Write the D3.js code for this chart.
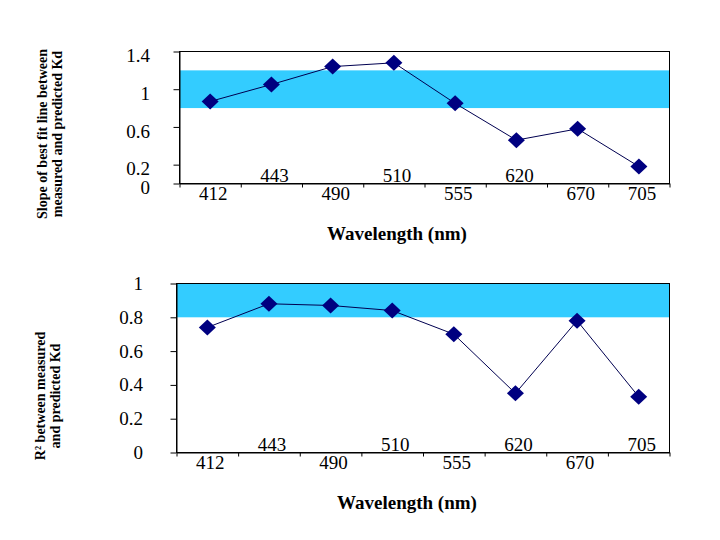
<!DOCTYPE html>
<html>
<head>
<meta charset="utf-8">
<script src="https://cdn.jsdelivr.net/npm/d3@7"></script>
<style>
  html, body { margin: 0; padding: 0; background: #fff; }
  svg { display: block; }
  text { font-family: "Liberation Serif", "Times New Roman", serif; fill: #000; }
</style>
</head>
<body>
<svg id="chart" width="720" height="540"></svg>
<script>
// ---- data ----
const wavelengths = ["412", "443", "490", "510", "555", "620", "670", "705"];
const slopeValues = [0.87, 1.05, 1.24, 1.28, 0.85, 0.46, 0.58, 0.18];
const r2Values = [0.74, 0.88, 0.87, 0.84, 0.70, 0.35, 0.78, 0.33];
const slopeTicks = [0, 0.2, 0.6, 1, 1.4];
const r2Ticks = [0, 0.2, 0.4, 0.6, 0.8, 1];
const slopeBand = [0.8, 1.2];
const r2Band = [0.8, 1.0];
const slopeTitle = ["Slope of best fit line between", "measured and predicted Kd"];
const r2Title = ["R\u00B2 between measured", "and predicted Kd"];
const xTitle = "Wavelength (nm)";

// ---- layout ----
const svg = d3.select("#chart");
const charts = [
  {
    values: slopeValues, ticks: slopeTicks, band: slopeBand, yMax: 1.4, title: slopeTitle,
    left: 179.5, right: 669.5, top: 51.5, bottom: 183.5,
    yLabelRight: 150, yLabelShift: 4,
    raised: [1, 3, 5], lowBase: 199.5, highBase: 181.5,
    titleX: [46.5, 62], titleY: 134,
    xTitleX: 397, xTitleY: 240
  },
  {
    values: r2Values, ticks: r2Ticks, band: r2Band, yMax: 1.0, title: r2Title,
    left: 176.5, right: 669.5, top: 283.5, bottom: 452.5,
    yLabelRight: 143, yLabelShift: 0,
    raised: [1, 3, 5, 7], lowBase: 469, highBase: 450.5,
    titleX: [45, 59.5], titleY: 396,
    xTitleX: 407, xTitleY: 509
  }
];

charts.forEach(c => {
  const g = svg.append("g");
  const x = d3.scaleBand().domain(wavelengths).range([c.left, c.right]).padding(0);
  const y = d3.scaleLinear().domain([0, c.yMax]).range([c.bottom, c.top]);

  // band
  g.append("rect")
    .attr("x", c.left).attr("width", c.right - c.left)
    .attr("y", y(c.band[1])).attr("height", y(c.band[0]) - y(c.band[1]))
    .attr("fill", "#33CCFF");

  // frame
  g.append("rect")
    .attr("x", c.left).attr("y", c.top)
    .attr("width", c.right - c.left).attr("height", c.bottom - c.top)
    .attr("fill", "none").attr("stroke", "#000").attr("stroke-width", 1);

  // y axis
  const yAxis = g.append("g")
    .attr("transform", `translate(${c.left},0)`)
    .call(d3.axisLeft(y).tickValues(c.ticks).tickSize(6).tickSizeOuter(0)
      .tickPadding(c.left - 6 - c.yLabelRight).tickFormat(d => String(d)));
  yAxis.select(".domain").attr("stroke", "#000");
  yAxis.selectAll(".tick line").attr("stroke", "#000");
  yAxis.selectAll(".tick text")
    .attr("font-size", 19).attr("font-family", "Liberation Serif, serif")
    .attr("y", c.yLabelShift);

  // x axis edges ticks
  const xe = d3.scaleLinear().domain([0, wavelengths.length]).range([c.left, c.right]);
  const xEdge = g.append("g")
    .attr("transform", `translate(0,${c.bottom})`)
    .call(d3.axisBottom(xe).tickValues(d3.range(wavelengths.length + 1)).tickSize(4).tickSizeOuter(0).tickFormat(""));
  xEdge.select(".domain").attr("stroke", "#000");
  xEdge.selectAll(".tick line").attr("stroke", "#000");

  // x labels (staggered)
  g.selectAll("text.xl").data(wavelengths).join("text")
    .attr("class", "xl")
    .attr("x", d => x(d) + x.bandwidth() / 2 + 3)
    .attr("y", (d, i) => c.raised.includes(i) ? c.highBase : c.lowBase)
    .attr("text-anchor", "middle")
    .attr("font-size", 19)
    .text(d => d);

  // line
  const line = d3.line()
    .x((d, i) => x(wavelengths[i]) + x.bandwidth() / 2)
    .y(d => y(d));
  g.append("path").datum(c.values)
    .attr("d", line)
    .attr("fill", "none").attr("stroke", "#000050").attr("stroke-width", 1);

  // diamond markers
  g.selectAll("path.mk").data(c.values).join("path")
    .attr("class", "mk")
    .attr("transform", (d, i) => `translate(${x(wavelengths[i]) + x.bandwidth() / 2},${y(d)})`)
    .attr("d", "M0,-8L8.5,0L0,8L-8.5,0Z")
    .attr("fill", "#000080");

  // y title
  const yt = g.append("text")
    .attr("transform", `rotate(-90)`)
    .attr("text-anchor", "middle")
    .attr("font-size", 14).attr("font-weight", "bold");
  c.title.forEach((t, i) => {
    yt.append("tspan").attr("x", -c.titleY).attr("y", c.titleX[i]).text(t);
  });

  // x title
  g.append("text")
    .attr("x", c.xTitleX).attr("y", c.xTitleY)
    .attr("text-anchor", "middle")
    .attr("font-size", 19).attr("font-weight", "bold")
    .text(xTitle);
});
</script>
</body>
</html>
